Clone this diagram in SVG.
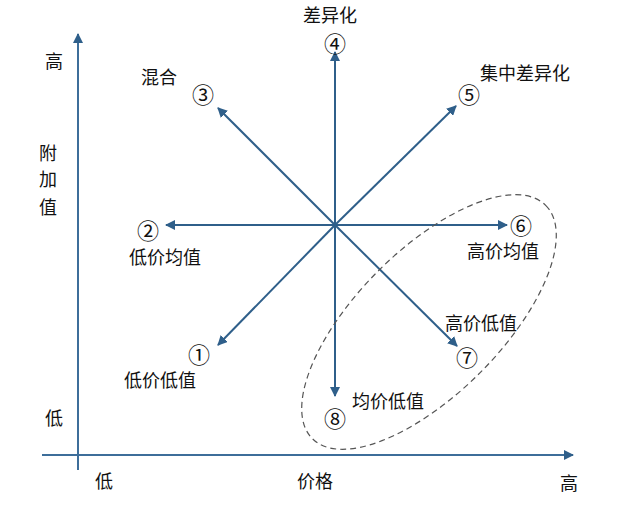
<svg xmlns="http://www.w3.org/2000/svg" width="619" height="513" viewBox="0 0 619 513">
<style>
text{font-family:"Noto Sans CJK SC","Liberation Sans",sans-serif;fill:#111;font-size:18px}
.ax{stroke:#3d6e9a;stroke-width:2;fill:none}
.ar{stroke:#2f5f8a;stroke-width:2;fill:none}
.n{font-family:"Noto Sans CJK SC","DejaVu Sans",sans-serif;font-size:22px}
</style>
<defs>
<marker id="m" viewBox="0 0 10 10" refX="9" refY="5" markerWidth="5" markerHeight="5" orient="auto"><path d="M0,0L10,5L0,10z" fill="#2f5f8a"/></marker>
</defs>
<rect width="619" height="513" fill="#fff"/>
<g id="connectors">
<line class="ax" x1="78" y1="470" x2="78" y2="34" marker-end="url(#m)"/>
<line class="ax" x1="42" y1="455" x2="573" y2="455" marker-end="url(#m)"/>
<line class="ar" x1="335" y1="225" x2="335" y2="52" marker-end="url(#m)"/>
<line class="ar" x1="335" y1="225" x2="335" y2="396" marker-end="url(#m)"/>
<line class="ar" x1="335" y1="225" x2="166" y2="225" marker-end="url(#m)"/>
<line class="ar" x1="335" y1="225" x2="507" y2="225" marker-end="url(#m)"/>
<line class="ar" x1="335" y1="225" x2="218" y2="108" marker-end="url(#m)"/>
<line class="ar" x1="335" y1="225" x2="456" y2="106" marker-end="url(#m)"/>
<line class="ar" x1="335" y1="225" x2="218" y2="345" marker-end="url(#m)"/>
<line class="ar" x1="335" y1="225" x2="457" y2="346" marker-end="url(#m)"/>
<ellipse cx="429" cy="322" rx="165" ry="72" transform="rotate(-45 429 322)" fill="none" stroke="#555" stroke-width="1.2" stroke-dasharray="6,4"/>
</g>
<g id="axis-labels">
<text x="45" y="68">高</text>
<text x="39" y="160">附</text><text x="39" y="186">加</text><text x="39" y="214">值</text>
<text x="45" y="425">低</text>
<text x="95" y="488">低</text>
<text x="297" y="488">价格</text>
<text x="560" y="490">高</text>
</g>
<g id="n4"><text x="303" y="22">差异化</text><text class="n" x="324" y="52">④</text></g>
<g id="n3"><text x="141" y="84">混合</text><text class="n" x="192" y="103">③</text></g>
<g id="n5"><text x="480" y="80">集中差异化</text><text class="n" x="458" y="103">⑤</text></g>
<g id="n2"><text class="n" x="137" y="239">②</text><text x="129" y="264">低价均值</text></g>
<g id="n6"><text class="n" x="510" y="234">⑥</text><text x="467" y="258">高价均值</text></g>
<g id="n1"><text class="n" x="188" y="363">①</text><text x="124" y="387">低价低值</text></g>
<g id="n7"><text x="445" y="330">高价低值</text><text class="n" x="456" y="366">⑦</text></g>
<g id="n8"><text x="352" y="408">均价低值</text><text class="n" x="324" y="427">⑧</text></g>
</svg>
